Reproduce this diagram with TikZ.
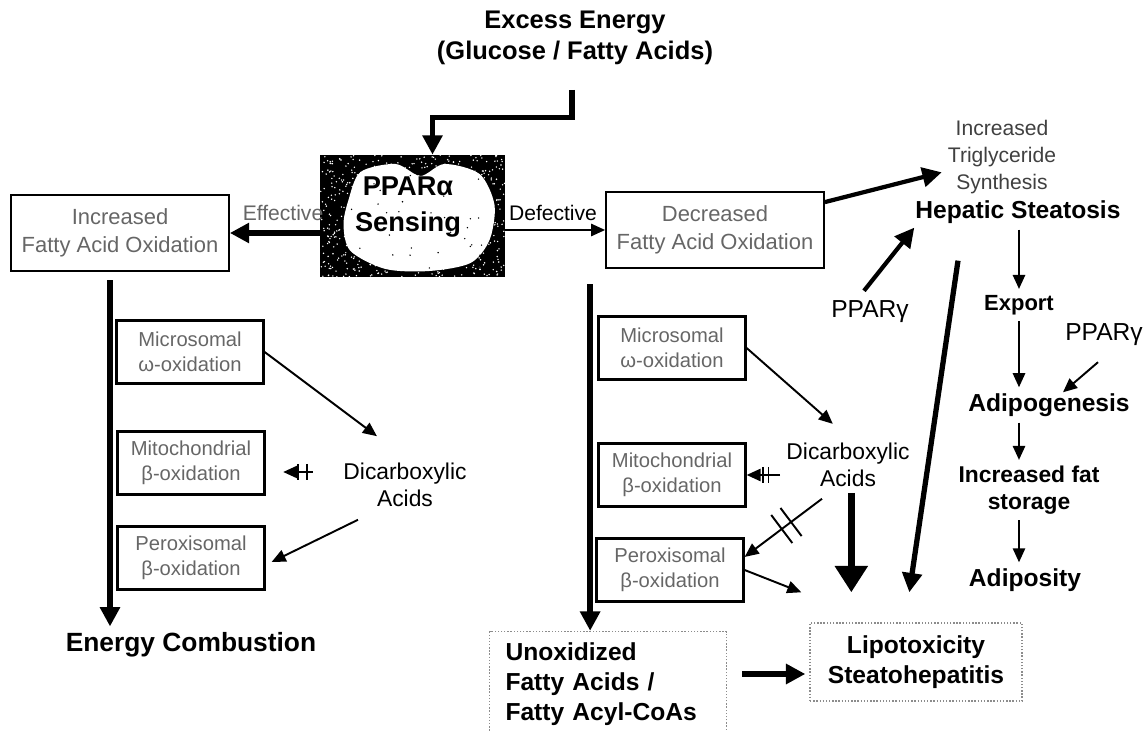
\documentclass[tikz,border=0pt]{standalone}
\usepackage{fontspec}
\setmainfont{Liberation Sans}
\usetikzlibrary{arrows.meta}
\usetikzlibrary{positioning}
\usetikzlibrary{calc}

\begin{document}
\begin{tikzpicture}[x=0.02cm, y=-0.02cm,
  box/.style={draw, line width=1.3pt, align=center, text=black!60, inner sep=2pt, font=\fontsize{11.5}{14}\selectfont},
  bigbox/.style={box, minimum width=4.35cm, minimum height=1.52cm, font=\fontsize{12.5}{16}\selectfont},
  smallbox/.style={box, minimum width=2.94cm, minimum height=1.26cm},
  bold/.style={font=\bfseries\fontsize{14}{17}\selectfont, align=center},
  plain/.style={font=\fontsize{13}{15}\selectfont, align=center},
  fat/.style={line width=3pt, line join=miter, -{Triangle[length=11pt, width=11pt]}},
  fatter/.style={line width=4pt, -{Triangle[length=15pt, width=18pt]}},
  slim/.style={line width=1.1pt, -{Triangle[length=8pt, width=7pt]}},
  dots/.style={draw=black!45, densely dotted, line width=0.8pt}
]

\useasboundingbox (0,0) rectangle (1144,732);
\pgfmathsetseed{12}

% top
\node[bold, font=\bfseries\fontsize{14.5}{17.5}\selectfont] (ee) at (575,38) {Excess Energy\\(Glucose / Fatty Acids)};

\node[minimum width=3.7cm, minimum height=2.44cm, inner sep=0pt,
  path picture={
    \fill[black] (path picture bounding box.south west) rectangle (path picture bounding box.north east);
    \begin{scope}[shift={(path picture bounding box.center)}]
      \foreach \i in {1,...,700} {\fill[white] (-92+184*rnd, -61+122*rnd) circle (0.45pt);}
      \fill[white] plot[smooth cycle] coordinates {(-64,-16) (-52,-44) (-17,-52) (8,-40) (32,-52) (67,-42) (82,-11) (77,24) (58,47) (17,55) (-27,53) (-62,35) (-69,9)};
      \foreach \i in {1,...,40} {\fill[black] (-70+150*rnd, -45+100*rnd) circle (0.45pt);}
    \end{scope}
  }] (ppar) at (412.5,216) {};
\node[font=\bfseries\fontsize{15.5}{20}\selectfont, align=center] (ppartxt) at (408,207) {PPARα\\Sensing};

\coordinate (elbow) at ($(ppar.north)+(20,-37)$);
\draw[fat] ($(ee.south)+(-3,19)$) |- (elbow) -- (elbow |- ppar.north);

% effective side
\node[bigbox] (inc) at (120,233) {Increased\\Fatty Acid Oxidation};
\node[plain, text=black!60, font=\fontsize{12}{14}\selectfont] (eff) at (283,213) {Effective};
\draw[fat] (ppar.west |- inc.east) -- (inc.east);

\node[smallbox] (mic1) at (190,352) {Microsomal\\ω-oxidation};
\node[smallbox] (mit1) at (191,463) {Mitochondrial\\β-oxidation};
\node[smallbox] (per1) at (191,558) {Peroxisomal\\β-oxidation};
\node[plain] (dic1) at (405,485) {Dicarboxylic\\Acids};
\node[bold, font=\bfseries\fontsize{15}{18}\selectfont] (comb) at (191,645) {Energy Combustion};

\coordinate (down1) at ($(inc.south)+(-10,8)$);
\draw[fat] (down1) -- (down1 |- comb.north);
\draw[slim] (mic1.east) -- ($(mic1.east)!0.8!(dic1.north)$);
\draw[slim] ($(dic1.south)+(-47,7)$) -- ($(per1.east)+(6,4)$);
\coordinate (blk1) at ($(mit1.east)+(0,9)$);
\draw[slim, shorten >=10pt, shorten <=14pt] (blk1 -| dic1.west) -- (blk1);
\foreach \f in {0.45,0.58}
  \draw[line width=1.1pt] ($(blk1)!\f!(blk1 -| dic1.west)$) ++(0,-8) -- ++(0,16);

% defective side
\node[bigbox] (dec) at (715,230) {Decreased\\Fatty Acid Oxidation};
\node[plain, font=\fontsize{12}{14}\selectfont] (def) at (553,213) {Defective};
\draw[slim] (dec.west -| ppar.east) -- (dec.west);

\node[smallbox] (mic2) at (672,348) {Microsomal\\ω-oxidation};
\node[smallbox] (mit2) at (672,475) {Mitochondrial\\β-oxidation};
\node[smallbox] (per2) at (670,570) {Peroxisomal\\β-oxidation};
\node[plain] (dic2) at (848,465) {Dicarboxylic\\Acids};

\node[bold, dots, align=left, text width=4.1cm, minimum width=4.74cm, minimum height=2.1cm, inner xsep=0.3cm] (unox) at (608,684) {Unoxidized\\Fatty Acids /\\Fatty Acyl-CoAs};
\node[bold, dots, minimum width=4.24cm, minimum height=1.56cm] (lipo) at (916,662) {Lipotoxicity\\Steatohepatitis};

\coordinate (down2) at ($(dec.south west)+(-15,15)$);
\draw[fat] (down2) -- (down2 |- unox.north);
\draw[fat] (unox.east |- lipo.west) ++(15,12) -- ($(lipo.west)+(-4,12)$);

\draw[slim] (mic2.east) -- ($(mic2.east)!0.85!(dic2.north)$);
\draw[slim] (dic2.west |- mit2.east) -- (mit2.east);
\foreach \f in {0.5,0.65}
  \draw[line width=1.1pt] ($(mit2.east)!\f!(dic2.west |- mit2.east)$) ++(0,-8) -- ++(0,16);

\coordinate (cut) at ($(dic2.south)+(-26,6)$);
\coordinate (perin) at ($(per2.north east)!0.3!(per2.south east)$);
\draw[slim] (cut) -- (perin);
\foreach \f in {0.4,0.52}
  \draw[line width=1.1pt] ($($(cut)!\f!(perin)$)!10pt!90:(perin)$) -- ($($(cut)!\f!(perin)$)!10pt!-90:(perin)$);

\coordinate (lipoA) at ($(lipo.north west)+(-8,-30)$);
\coordinate (lipoB) at ($(lipo.north west)+(42,-30)$);
\coordinate (lipoC) at ($(lipo.north west)+(100,-30)$);
\draw[slim] (per2.east) -- (lipoA);
\draw[fatter] (dic2.south -| lipoB) -- (lipoB);

% hepatic steatosis
\node[plain, font=\fontsize{12}{15.5}\selectfont, text=black!75] (trig) at (1002,157) {Increased\\Triglyceride\\Synthesis};
\node[bold] (hep) at (1018,212) {Hepatic Steatosis};
\node[plain, font=\fontsize{14}{17}\selectfont] (ppg1) at (870,312) {PPARγ};
\node[bold, font=\bfseries\fontsize{12.5}{15}\selectfont] (exp) at (1019,305) {Export};
\node[plain, font=\fontsize{14}{17}\selectfont] (ppg2) at (1104,335) {PPARγ};
\node[bold] (adipo) at (1049,405) {Adipogenesis};
\node[bold, font=\bfseries\fontsize{13}{15}\selectfont] (store) at (1029,490) {Increased fat\\storage};
\node[bold] (adip) at (1025,580) {Adiposity};

\draw[fat, line width=2.4pt] (dec) -- (trig);
\draw[fat, line width=2.4pt] ($(ppg1.north)+(-6,-4)$) -- ($(hep.south west)+(5,-2)$);
\coordinate (hepout) at ($(hep.south)+(-60,31)$);
\draw[fat] (hepout) -- (lipoC);

\draw[slim] (exp |- hep.south) -- (exp.north);
\draw[slim] (exp.south) -- (exp.south |- adipo.north);
\draw[slim] (exp.south |- adipo.south) -- (exp.south |- store.north);
\draw[slim] (exp.south |- store.south) -- (exp.south |- adip.north);
\draw[slim] ($(ppg2.south)+(-6,10)$) -- ($(adipo.north)+(14,5)$);

\end{tikzpicture}
\end{document}
